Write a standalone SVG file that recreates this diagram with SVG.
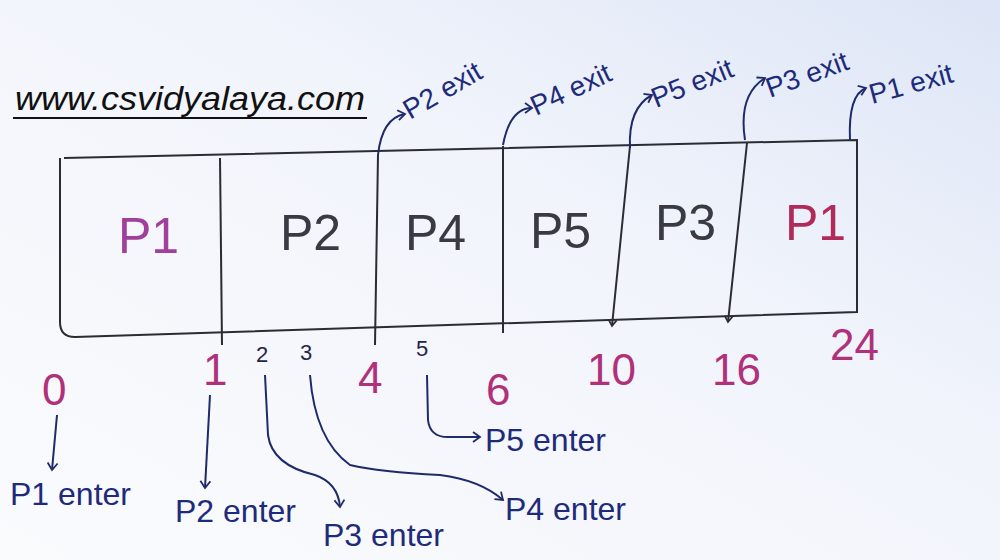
<svg xmlns="http://www.w3.org/2000/svg" width="1000" height="560" viewBox="0 0 1000 560">
<defs>
<linearGradient id="bg" x1="0" y1="1" x2="1" y2="0">
<stop offset="0" stop-color="#fafbfd"/>
<stop offset="0.6" stop-color="#f1f4fb"/>
<stop offset="1" stop-color="#dde5f6"/>
</linearGradient>
<marker id="ar" markerWidth="12" markerHeight="12" refX="9" refY="6" orient="auto" markerUnits="userSpaceOnUse">
<path d="M2,1 L9,6 L2,11" fill="none" stroke="#1f2a6b" stroke-width="1.8"/>
</marker>
<marker id="ard" markerWidth="12" markerHeight="12" refX="9" refY="6" orient="auto" markerUnits="userSpaceOnUse">
<path d="M3,2 L9,6 L3,10" fill="none" stroke="#2b2b33" stroke-width="1.8"/>
</marker>
<style>
.box{fill:none;stroke:#2b2b33;stroke-width:2}
.conn{fill:none;stroke:#1f2a6b;stroke-width:2}
.t{font-family:"Liberation Sans",Arial,sans-serif}
.pl{font-size:50px;fill:#3a3a44}
.p1{fill:#a0409a}
.p1b{fill:#b02a5a}
.num{font-size:44px;fill:#b0307a}
.sm{font-size:22px;fill:#22264a}
.lbl{font-size:32px;fill:#1d2b7a}
.ex{font-size:28px;fill:#1d2b7a}
</style>
</defs>
<rect width="1000" height="560" fill="url(#bg)"/>
<g id="title">
<text class="t" x="15" y="110" font-size="34" font-style="italic" fill="#111" textLength="350" lengthAdjust="spacingAndGlyphs">www.csvidyalaya.com</text>
<line x1="13" y1="118" x2="367" y2="118" stroke="#111" stroke-width="2"/>
</g>
<g id="chart">
<path class="box" d="M64,158 L857,140 L857,312 L75,337 Q60,337 60,322 L60,158"/>
<path class="box" d="M220,158 L222,345"/>
<path class="box" d="M378,155 L375,345"/>
<path class="box" d="M503,146 L503,333"/>
<path class="box" d="M630,146 L612,326" marker-end="url(#ard)"/>
<path class="box" d="M747,143 L728,322" marker-end="url(#ard)"/>
</g>
<g id="blocks">
<text class="t pl p1" x="118" y="253">P1</text>
<text class="t pl" x="280" y="250">P2</text>
<text class="t pl" x="405" y="250">P4</text>
<text class="t pl" x="530" y="248">P5</text>
<text class="t pl" x="655" y="240">P3</text>
<text class="t pl p1b" x="785" y="240">P1</text>
</g>
<g id="times">
<text class="t num p1" x="42" y="405" font-size="52">0</text>
<text class="t num" x="203" y="385">1</text>
<text class="t sm" x="256" y="362">2</text>
<text class="t sm" x="300" y="360">3</text>
<text class="t num" x="358" y="393">4</text>
<text class="t sm" x="416" y="356">5</text>
<text class="t num" x="486" y="405" font-size="52">6</text>
<text class="t num" x="587" y="385">10</text>
<text class="t num" x="712" y="385">16</text>
<text class="t num" x="830" y="360">24</text>
</g>
<g id="connectors">
<path class="conn" d="M57,415 L52,470" marker-end="url(#ar)"/>
<path class="conn" d="M210,395 L205,488" marker-end="url(#ar)"/>
<path class="conn" d="M265,375 L268,435 Q272,465 315,475 Q338,483 340,507" marker-end="url(#ar)"/>
<path class="conn" d="M310,375 Q315,440 350,465 Q380,472 440,475 Q480,480 503,500" marker-end="url(#ar)"/>
<path class="conn" d="M427,375 L428,420 Q430,438 450,437 L480,437" marker-end="url(#ar)"/>
<path class="conn" d="M378,155 Q382,118 405,114" marker-end="url(#ar)"/>
<path class="conn" d="M503,145 Q510,108 532,108" marker-end="url(#ar)"/>
<path class="conn" d="M630,148 Q628,108 652,95" marker-end="url(#ar)"/>
<path class="conn" d="M745,140 Q738,95 765,78" marker-end="url(#ar)"/>
<path class="conn" d="M850,140 Q848,95 866,88" marker-end="url(#ar)"/>
</g>
<g id="labels">
<text class="t lbl" x="10" y="505">P1 enter</text>
<text class="t lbl" x="175" y="522">P2 enter</text>
<text class="t lbl" x="323" y="546">P3 enter</text>
<text class="t lbl" x="505" y="520">P4 enter</text>
<text class="t lbl" x="485" y="451">P5 enter</text>
<text class="t ex" x="410" y="120" font-size="20" transform="rotate(-30 410 120)">P2 exit</text>
<text class="t ex" x="536" y="116" transform="rotate(-25 536 116)">P4 exit</text>
<text class="t ex" x="656" y="108" transform="rotate(-22 656 108)">P5 exit</text>
<text class="t ex" x="770" y="98" font-size="30" transform="rotate(-20 770 98)">P3 exit</text>
<text class="t ex" x="872" y="104" font-size="32" transform="rotate(-15 872 104)">P1 exit</text>
</g>
</svg>
